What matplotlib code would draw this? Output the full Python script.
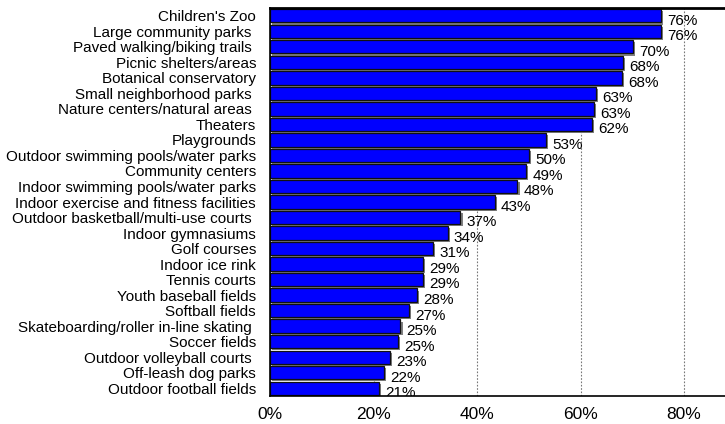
import matplotlib
matplotlib.use("Agg")
import matplotlib.pyplot as plt
import matplotlib.patheffects as pe
from matplotlib.ticker import FuncFormatter

categories = [
    "Children's Zoo", "Large community parks ", "Paved walking/biking trails ",
    "Picnic shelters/areas", "Botanical conservatory", "Small neighborhood parks ",
    "Nature centers/natural areas ", "Theaters", "Playgrounds",
    "Outdoor swimming pools/water parks", "Community centers",
    "Indoor swimming pools/water parks", "Indoor exercise and fitness facilities",
    "Outdoor basketball/multi-use courts ", "Indoor gymnasiums", "Golf courses",
    "Indoor ice rink", "Tennis courts", "Youth baseball fields", "Softball fields",
    "Skateboarding/roller in-line skating ", "Soccer fields",
    "Outdoor volleyball courts ", "Off-leash dog parks", "Outdoor football fields",
]
values = [75.6, 75.6, 70.1, 68.1, 68.0, 62.9, 62.5, 62.2, 53.4, 50.0, 49.5, 47.8,
          43.4, 36.8, 34.3, 31.5, 29.5, 29.5, 28.4, 26.9, 25.2, 24.7, 23.1, 22.0, 21.1]
value_labels = ["76%", "76%", "70%", "68%", "68%", "63%", "63%", "62%", "53%", "50%",
                "49%", "48%", "43%", "37%", "34%", "31%", "29%", "29%", "28%", "27%",
                "25%", "25%", "23%", "22%", "21%"]
xticks = [0, 20, 40, 60, 80]

plt.rcParams['font.family'] = ['Liberation Sans', 'DejaVu Sans']

fig = plt.figure(figsize=(7.25, 4.24), dpi=100)
ax = fig.add_axes([270/725, 1-396/424, 1-270/725, (396-8)/424])

n = len(categories)
ypos = list(range(n))
bars = ax.barh(ypos, values, height=0.86, color='#0000FF', edgecolor='#111111',
               linewidth=0.9, zorder=3)
for b in bars:
    b.set_path_effects([pe.SimplePatchShadow(offset=(1.5, -1.5), shadow_rgbFace='#808080', alpha=1.0),
                        pe.Normal()])

for y, v, lab in zip(ypos, values, value_labels):
    ax.annotate(lab, xy=(v, y), xytext=(4.5, -3.5), textcoords='offset points',
                ha='left', va='center', fontsize=11, color='black', zorder=4,
                annotation_clip=False, clip_on=True)

ax.set_ylim(n - 0.5, -0.5)
ax.set_xlim(0, 87.9)
ax.set_yticks(ypos)
ax.set_yticklabels(categories, fontsize=11)
ax.set_xticks(xticks)
ax.xaxis.set_major_formatter(FuncFormatter(lambda x, p: f"{int(x)}%"))
ax.tick_params(axis='x', labelsize=12.5, length=0, pad=8)
ax.tick_params(axis='y', length=0, pad=10)

ax.grid(axis='x', linestyle=(0, (1.5, 1.5)), color='#777777', linewidth=0.8, zorder=0)
ax.set_axisbelow(True)

ax.spines['right'].set_visible(False)
ax.spines['top'].set_linewidth(2)
ax.spines['bottom'].set_linewidth(1.2)
ax.spines['left'].set_linewidth(1.2)
for s in ax.spines.values():
    s.set_zorder(5)

fig.savefig("out.png", dpi=100)
